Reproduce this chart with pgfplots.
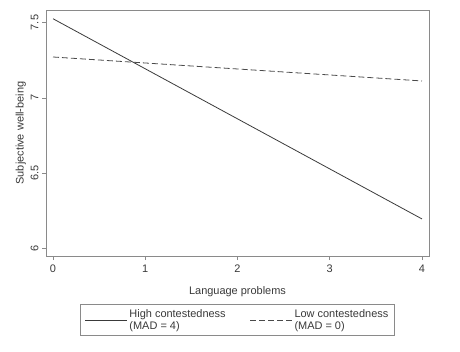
\documentclass[border=0pt]{standalone}
\usepackage{fontspec}
\setmainfont{Liberation Sans}
\usepackage{pgfplots}
\pgfplotsset{compat=1.18}
\definecolor{frame}{HTML}{8A8A8A}
\definecolor{lineA}{HTML}{3A3A3A}
\definecolor{lineB}{HTML}{4A4A4A}
\definecolor{txt}{HTML}{3A3A3A}
\begin{document}
\begin{tikzpicture}
\useasboundingbox (0,0) rectangle (460bp,352bp);
\begin{axis}[
  at={(46bp,96bp)}, anchor=south west,
  scale only axis, width=383bp, height=246bp,
  xmin=-0.076, xmax=4.076, ymin=5.95, ymax=7.583,
  xtick={0,1,2,3,4}, ytick={6,6.5,7,7.5},
  yticklabels={6,6.5,7,7.5},
  /pgf/number format/assume math mode=true,
  tick align=outside, tick pos=left,
  major tick length=4bp,
  axis line style={frame, line width=0.8pt},
  every tick/.style={frame, line width=0.6pt},
  tick label style={font=\fontsize{11}{13}\selectfont, text=txt},
  xticklabel style={yshift=-1bp},
  yticklabel style={rotate=90, anchor=south, yshift=0bp},
  xlabel={Language problems}, ylabel={Subjective well-being},
  label style={font=\fontsize{11}{13}\selectfont, text=txt},
  xlabel style={yshift=-7bp},
  ylabel style={yshift=-2bp},
  legend columns=2,
  legend style={at={(0.5,-0.195)}, anchor=north, draw=frame, line width=0.6pt,
    font=\fontsize{11}{12}\selectfont, text=txt, inner xsep=4bp, inner ysep=3bp,
    cells={align=left}, /tikz/every even column/.append style={column sep=22bp}},
  legend image code/.code={\draw[#1] (0bp,0bp) -- (42bp,0bp);},
]
\addplot[lineA, line width=0.8pt] coordinates {(0,7.525) (4,6.196)};
\addlegendentry{High contestedness\\(MAD = 4)}
\addplot[lineB, line width=0.8pt, dash pattern=on 6bp off 3bp] coordinates {(0,7.271) (4,7.112)};
\addlegendentry{Low contestedness\\(MAD = 0)}
\end{axis}
\end{tikzpicture}
\end{document}
